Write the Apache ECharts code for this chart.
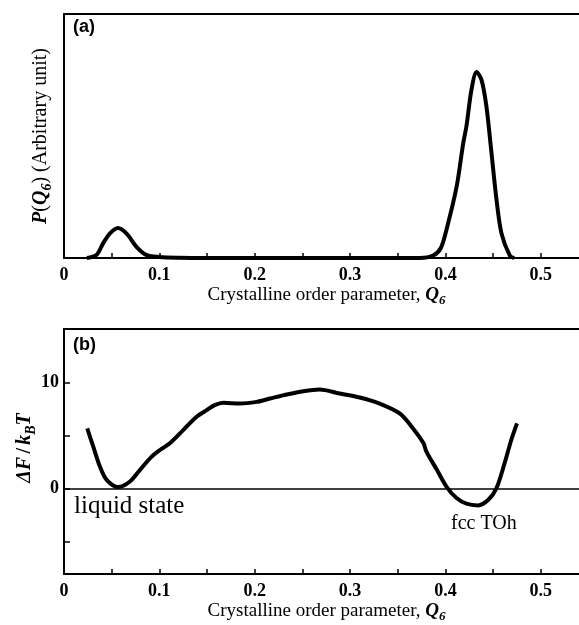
<!DOCTYPE html>
<html>
<head>
<meta charset="utf-8">
<script src="https://cdn.jsdelivr.net/npm/echarts@6/dist/echarts.min.js"></script>
<style>
  html, body { margin: 0; padding: 0; background: #fff; }
  #main { width: 579px; height: 625px; }
</style>
</head>
<body>
<div id="main"></div>
<script>
// (a) distribution of Q6
const qDist = [0.024, 0.034, 0.041, 0.048, 0.0566, 0.0657, 0.0762, 0.0867, 0.1, 0.12, 0.15, 0.2, 0.25, 0.3, 0.35,
  0.373, 0.387, 0.395, 0.401, 0.4116, 0.4186, 0.422, 0.4273, 0.4326, 0.4378, 0.443, 0.448, 0.4535, 0.4588, 0.4675, 0.472];
const pDist = [0, 1.2, 6, 10, 12.3, 10, 4.5, 1.2, 0.4, 0.1, 0, 0, 0, 0, 0,
  0, 1, 4, 11.5, 29, 47, 54, 69, 76.2, 73, 62, 44, 24, 10, 1, 0];

// (b) free energy profile
const qFree = [0.0244, 0.0307, 0.0377, 0.0447, 0.0569, 0.0692, 0.0797, 0.0919, 0.1006, 0.111, 0.125, 0.139, 0.1496,
  0.158, 0.167, 0.1845, 0.202, 0.216, 0.2335, 0.251, 0.268, 0.289, 0.31, 0.331, 0.352, 0.366, 0.377, 0.38, 0.391,
  0.401, 0.4116, 0.422, 0.434, 0.445, 0.4535, 0.462, 0.469, 0.475];
const dF = [5.67, 3.95, 2.08, 0.84, 0.16, 0.68, 1.78, 3.02, 3.64, 4.27, 5.51, 6.76, 7.38,
  7.85, 8.07, 8.0, 8.16, 8.47, 8.85, 9.16, 9.32, 8.94, 8.57, 8.0, 7.07, 5.67, 4.27, 3.49, 1.78,
  0.21, -0.87, -1.4, -1.56, -1.03, 0.06, 2.4, 4.58, 6.14];

const xTicks = [0, 0.05, 0.1, 0.15, 0.2, 0.25, 0.3, 0.35, 0.4, 0.45, 0.5];
const xLabels = [0, 0.1, 0.2, 0.3, 0.4, 0.5];
const yTicksB = [-5, 0, 5, 10];
const yLabelsB = [0, 10];

const chart = echarts.init(document.getElementById('main'));

const serif = '"Liberation Serif", "DejaVu Serif", serif';
function richFor(size) {
  return {
    i: { fontFamily: serif, fontStyle: 'italic', fontWeight: 'bold', fontSize: size, color: '#000' },
    n: { fontFamily: serif, fontWeight: 'bold', fontSize: size, color: '#000' },
    s: { fontFamily: serif, fontStyle: 'italic', fontWeight: 'bold', fontSize: Math.round(size * 0.68), color: '#000',
         padding: [Math.round(size * 0.6), 0, 0, 0] }
  };
}

// the frame runs past the right edge of the picture (cropped figure)
function xAxisFor(grid) {
  return {
    type: 'value', gridIndex: grid, min: 0, max: 0.561,
    name: 'Crystalline order parameter, {i|Q}{s|6}',
    nameLocation: 'middle', nameGap: 25,
    nameTextStyle: { fontFamily: serif, fontSize: 19, color: '#000', rich: richFor(19), padding: [0, 10, 0, 0] },
    axisLine: { onZero: false, lineStyle: { color: '#000', width: 2 } },
    axisTick: { inside: true, length: 5, customValues: xTicks, lineStyle: { color: '#000', width: 1.5 } },
    axisLabel: { customValues: xLabels, fontFamily: serif, fontWeight: 'bold', fontSize: 18, color: '#000', margin: 8 },
    splitLine: { show: false }
  };
}

chart.setOption({
  animation: false,
  backgroundColor: '#fff',
  grid: [
    { left: 64, top: 14, right: -20, height: 244, outerBoundsMode: 'none', show: true, borderColor: '#000', borderWidth: 2 },
    { left: 64, top: 329, right: -20, height: 245, outerBoundsMode: 'none', show: true, borderColor: '#000', borderWidth: 2 }
  ],
  xAxis: [xAxisFor(0), xAxisFor(1)],
  yAxis: [
    {
      type: 'value', gridIndex: 0, min: 0, max: 100,
      name: '{i|P}({i|Q}{s|6}) (Arbitrary unit)',
      nameLocation: 'middle', nameGap: 10,
      nameTextStyle: { fontFamily: serif, fontSize: 20, color: '#000', rich: richFor(20) },
      axisLine: { lineStyle: { color: '#000', width: 2 } },
      axisTick: { show: false }, axisLabel: { show: false }, splitLine: { show: false }
    },
    {
      type: 'value', gridIndex: 1, min: -8, max: 15,
      axisLine: { lineStyle: { color: '#000', width: 2 } },
      axisTick: { inside: true, length: 6, customValues: yTicksB, lineStyle: { color: '#000', width: 1.5 } },
      axisLabel: { customValues: yLabelsB, fontFamily: serif, fontWeight: 'bold', fontSize: 18, color: '#000', margin: 5 },
      splitLine: { show: false }
    }
  ],
  series: [
    {
      type: 'line', xAxisIndex: 0, yAxisIndex: 0, smooth: 0.3, symbol: 'none',
      lineStyle: { color: '#000', width: 4 },
      data: qDist.map((q, i) => [q, pDist[i]])
    },
    {
      type: 'line', xAxisIndex: 1, yAxisIndex: 1, smooth: 0.3, symbol: 'none',
      lineStyle: { color: '#000', width: 4 },
      data: qFree.map((q, i) => [q, dF[i]]),
      markLine: {
        silent: true, symbol: 'none', label: { show: false },
        lineStyle: { color: '#000', width: 1.5, type: 'solid' },
        data: [{ yAxis: 0 }]
      }
    }
  ],
  graphic: [
    { type: 'text', left: 73, top: 18, style: { text: '(a)', font: 'bold 18px "Liberation Sans", Arial, sans-serif', fill: '#000' } },
    { type: 'text', left: 73, top: 336, style: { text: '(b)', font: 'bold 18px "Liberation Sans", Arial, sans-serif', fill: '#000' } },
    { type: 'text', left: 74, top: 494, style: { text: 'liquid state', font: '25px "Liberation Serif", serif', fill: '#000' } },
    { type: 'text', left: 451, top: 514, style: { text: 'fcc TOh', font: '20px "Liberation Serif", serif', fill: '#000' } },
    {
      type: 'text', x: 25, y: 448, rotation: Math.PI / 2,
      style: {
        text: '{i|ΔF} {n|/} {i|k}{s|B}{i|T}', rich: richFor(20),
        align: 'center', verticalAlign: 'middle', fill: '#000'
      }
    }
  ]
});
</script>
</body>
</html>
